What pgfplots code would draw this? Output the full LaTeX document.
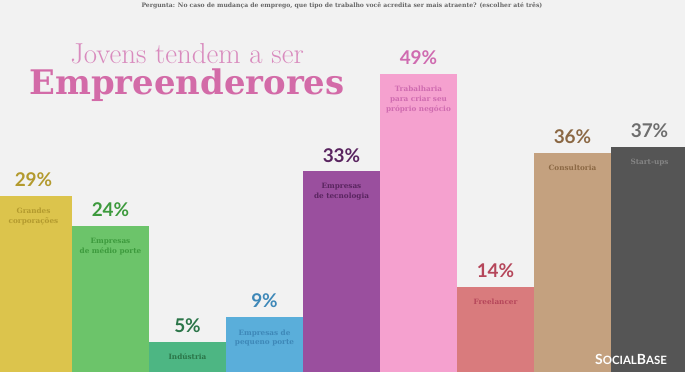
\documentclass[border=0pt]{standalone}
\usepackage{pgfplots}
\pgfplotsset{compat=1.18}
\usepackage{fontspec}
\setmainfont{DejaVu Serif}
\newfontfamily\pctfont{Lato}
\newfontfamily\titlelight{Latin Modern Roman}
\definecolor{bg}{HTML}{F2F2F2}
\definecolor{c1}{HTML}{DCC44C}\definecolor{t1}{HTML}{B39A2E}
\definecolor{c2}{HTML}{6CC46A}\definecolor{t2}{HTML}{3D9A3D}
\definecolor{c3}{HTML}{4DB683}\definecolor{t3}{HTML}{2B7548}
\definecolor{c4}{HTML}{5AAEDA}\definecolor{t4}{HTML}{3E88B8}
\definecolor{c5}{HTML}{9A4F9E}\definecolor{t5}{HTML}{5A2560}
\definecolor{c6}{HTML}{F5A1CF}\definecolor{t6}{HTML}{CF6BB0}
\definecolor{c7}{HTML}{D97B7D}\definecolor{t7}{HTML}{B5465A}
\definecolor{c8}{HTML}{C4A17F}\definecolor{t8}{HTML}{8B6844}
\definecolor{c9}{HTML}{555555}\definecolor{t9}{HTML}{6E6E6E}
\definecolor{ttl}{HTML}{D36BA8}
\definecolor{ttll}{HTML}{D98BBE}
\pgfplotsset{
  mybar/.style={ybar, bar width=1, bar shift=0pt, draw=none, fill=#1,
    nodes near coords={\pgfmathprintnumber[assume math mode=true]{\pgfplotspointmeta}\%},
    nodes near coords style={anchor=south, inner sep=0pt, yshift=9bp,
      font=\pctfont\bfseries\fontsize{19}{19}\selectfont}},
}
\begin{document}
\begin{tikzpicture}
\begin{axis}[
  width=685bp, height=372bp, scale only axis,
  xmin=-0.435, xmax=8.461, ymin=0, ymax=61.2,
  axis lines=none, ticks=none,
  axis background/.style={fill=bg},
  clip=true,
]
\addplot[mybar=c1, nodes near coords style={text=t1}] coordinates {(0,29)};
\addplot[mybar=c2, nodes near coords style={text=t2}] coordinates {(1,24)};
\addplot[mybar=c3, nodes near coords style={text=t3}] coordinates {(2,5)};
\addplot[mybar=c4, nodes near coords style={text=t4}] coordinates {(3,9)};
\addplot[mybar=c5, nodes near coords style={text=t5}] coordinates {(4,33)};
\addplot[mybar=c6, nodes near coords style={text=t6}] coordinates {(5,49)};
\addplot[mybar=c7, nodes near coords style={text=t7}] coordinates {(6,14)};
\addplot[mybar=c8, nodes near coords style={text=t8}] coordinates {(7,36)};
\addplot[mybar=c9, nodes near coords style={text=t9}] coordinates {(8,37)};
\tikzset{inl/.style={anchor=north, align=center, inner sep=0pt, yshift=-12bp,
  font=\bfseries\fontsize{7.3}{10}\selectfont}}
\node[inl, text=t1] at (axis cs:0,29) {Grandes\\corporações};
\node[inl, text=t2] at (axis cs:1,24) {Empresas\\de médio porte};
\node[inl, text=t3] at (axis cs:2,5) {Indústria};
\node[inl, text=t4] at (axis cs:3,9) {Empresas de\\pequeno porte};
\node[inl, text=t5] at (axis cs:4,33) {Empresas\\de tecnologia};
\node[inl, text=t6] at (axis cs:5,49) {Trabalharia\\para criar seu\\próprio negócio};
\node[inl, text=t7] at (axis cs:6,14) {Freelancer};
\node[inl, text=t8] at (axis cs:7,36) {Consultoria};
\node[inl, text=t9!85!white] at (axis cs:8,37) {Start-ups};
\node[anchor=base, text=ttll, inner sep=0pt, font=\titlelight\fontsize{29}{29}\selectfont] at (axis cs:1.994,50.8) {Jovens tendem a ser};
\node[anchor=base, text=ttl, inner sep=0pt] at (axis cs:1.994,45.6) {\resizebox{315bp}{!}{\bfseries Empreenderores}};
\node[anchor=base, text=black!60, inner sep=0pt, font=\bfseries\fontsize{6.1}{7}\selectfont] at (axis cs:4.006,60.0) {Pergunta: No caso de mudança de emprego, que tipo de trabalho você acredita ser mais atraente? (escolher até três)};
\node[anchor=base, text=white, inner sep=0pt, font=\pctfont\bfseries\fontsize{14}{14}\selectfont] at (axis cs:7.76,1.2) {S\fontsize{11.5}{11.5}\selectfont OCIAL\fontsize{14}{14}\selectfont B\fontsize{11.5}{11.5}\selectfont ASE};
\end{axis}
\end{tikzpicture}
\end{document}
